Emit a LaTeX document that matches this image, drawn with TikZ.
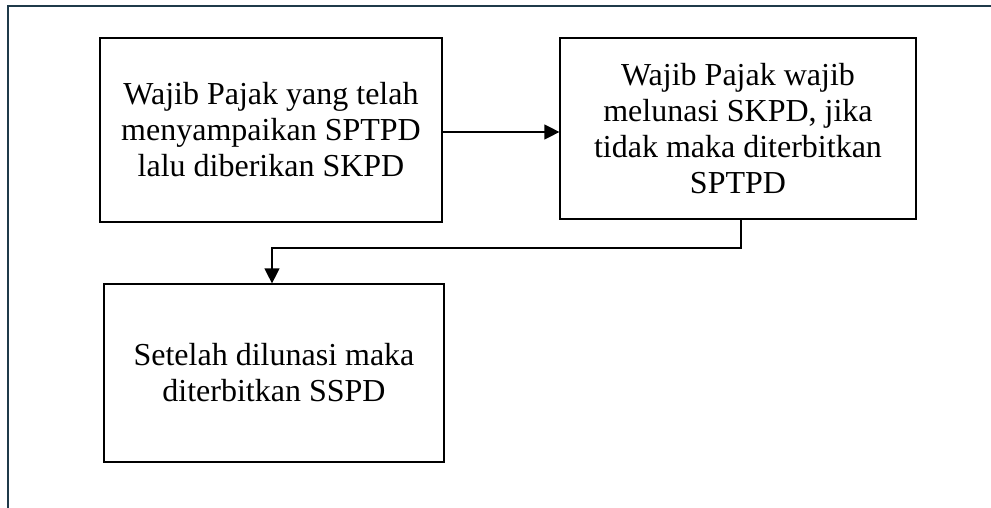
\documentclass[tikz,border=0pt]{standalone}
\usepackage{fontspec}
\setmainfont{Liberation Serif}
\usetikzlibrary{arrows.meta}
\definecolor{framecol}{HTML}{1F3A4A}
\begin{document}
\begin{tikzpicture}[x=1pt,y=-1pt,
  boxst/.style={draw=black, line width=1.2pt, minimum width=#1, align=center, inner sep=0pt,
    font=\fontsize{32}{36}\selectfont},
  conn/.style={line width=1.2pt, -{Triangle[length=15pt,width=15pt]}}]
\useasboundingbox (0,0) rectangle (991,508);
\draw[framecol, line width=2.6pt] (8,508) -- (8,6) -- (991,6);
\node[boxst=342pt, minimum height=184pt] (a) at (271,130)
  {Wajib Pajak yang telah\\menyampaikan SPTPD\\lalu diberikan SKPD};
\node[boxst=356pt, minimum height=181pt] (b) at (738,128.5)
  {Wajib Pajak wajib\\melunasi SKPD, jika\\tidak maka diterbitkan\\SPTPD};
\node[boxst=340pt, minimum height=178pt] (c) at (274,373)
  {Setelah dilunasi maka\\diterbitkan SSPD};
\coordinate (b1) at (741,248);
\draw[conn] (a.east |- 0,132) -- (b.west |- 0,132);
\draw[conn] (b.south -| b1) -- (b1) -- (272,248) -- (c.north -| 272,0);
\end{tikzpicture}
\end{document}
